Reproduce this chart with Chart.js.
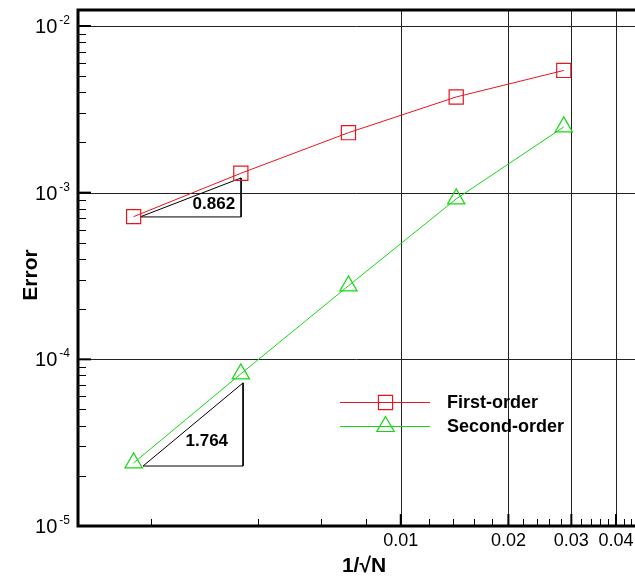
<!DOCTYPE html>
<html>
<head>
<meta charset="utf-8">
<script src="https://cdn.jsdelivr.net/npm/chart.js@4/dist/chart.umd.min.js"></script>
<style>
  body { margin: 0; background: #fff; }
  #wrap { width: 635px; height: 578px; }
</style>
</head>
<body>
<div id="wrap"><canvas id="myChart" width="635" height="578"></canvas></div>
<script>
// values
const h = [0.00179, 0.00357, 0.00714, 0.01429, 0.02857];           // 1/sqrt(N)
const firstOrder = [7.18e-4, 1.307e-3, 2.29e-3, 3.75e-3, 5.41e-3];
const secondOrder = [2.39e-5, 8.18e-5, 2.76e-4, 9.17e-4, 2.48e-3];

// slope triangles (x, y corners)
const slope1X = [0.001866, 0.003576, 0.003576, 0.001866];
const slope1Y = [7.15e-4, 1.225e-3, 7.15e-4, 7.15e-4];
const slope2X = [0.001902, 0.003622, 0.003622, 0.001902];
const slope2Y = [2.29e-5, 7.22e-5, 2.29e-5, 2.29e-5];
const slopeLabels = ["0.862", "1.764"];

// axes
const xMajorTicks = [0.01, 0.02, 0.03, 0.04];
const xTickLabels = ["0.01", "0.02", "0.03", "0.04"];
const xMinorTicks = [0.002, 0.004, 0.006, 0.008, 0.012, 0.014, 0.016, 0.018,
  0.022, 0.024, 0.026, 0.028, 0.032, 0.034, 0.036, 0.038, 0.042, 0.044];
const yMajorTicks = [1e-5, 1e-4, 1e-3, 1e-2];
const yTickExps = ["-5", "-4", "-3", "-2"];

const RED = "rgb(235,20,30)";
const GREEN = "rgb(20,215,20)";
const FONT = "'Liberation Sans', Arial, sans-serif";

function pts(xs, ys) {
  return xs.map((x, i) => ({ x: x, y: ys[i] }));
}

function crisp(v) { return Math.round(v) + 0.5; }

function drawMarker(ctx, style, x, y, r, color) {
  ctx.save();
  ctx.strokeStyle = color;
  ctx.lineWidth = 1.2;
  ctx.beginPath();
  if (style === "rect") {
    const s = r * Math.SQRT1_2;
    ctx.rect(x - s, y - s, 2 * s, 2 * s);
  } else {
    ctx.moveTo(x, y - r);
    ctx.lineTo(x + r * 0.866, y + r / 2);
    ctx.lineTo(x - r * 0.866, y + r / 2);
    ctx.closePath();
  }
  ctx.stroke();
  ctx.restore();
}

const framePlugin = {
  id: "frame",
  beforeDatasetsDraw(chart) {
    const ctx = chart.ctx;
    const a = chart.chartArea;
    const xs = chart.scales.x, ys = chart.scales.y;
    ctx.save();
    ctx.strokeStyle = "#222";
    ctx.lineWidth = 1;
    yMajorTicks.forEach(v => {
      if (v <= 1e-5) return;
      const py = crisp(ys.getPixelForValue(v));
      ctx.beginPath(); ctx.moveTo(a.left, py); ctx.lineTo(a.right, py); ctx.stroke();
    });
    xMajorTicks.forEach(v => {
      const px = crisp(xs.getPixelForValue(v));
      ctx.beginPath(); ctx.moveTo(px, a.top); ctx.lineTo(px, a.bottom); ctx.stroke();
    });
    ctx.restore();
  },
  afterDatasetsDraw(chart) {
    const ctx = chart.ctx;
    const a = chart.chartArea;
    const xs = chart.scales.x, ys = chart.scales.y;
    ctx.save();

    // frame
    ctx.strokeStyle = "#000";
    ctx.lineWidth = 3;
    ctx.beginPath();
    ctx.moveTo(a.right + 2, a.top);
    ctx.lineTo(a.left, a.top);
    ctx.lineTo(a.left, a.bottom);
    ctx.lineTo(a.right + 2, a.bottom);
    ctx.stroke();

    // y ticks
    yMajorTicks.forEach((v, i) => {
      const py = ys.getPixelForValue(v);
      ctx.lineWidth = 2;
      ctx.beginPath(); ctx.moveTo(a.left, py); ctx.lineTo(a.left + 13, py); ctx.stroke();
      if (i < yMajorTicks.length - 1) {
        for (let k = 2; k <= 9; k++) {
          const my = crisp(ys.getPixelForValue(v * k));
          ctx.lineWidth = 1;
          ctx.beginPath(); ctx.moveTo(a.left, my); ctx.lineTo(a.left + 8, my); ctx.stroke();
        }
      }
      // label 10^n
      ctx.fillStyle = "#000";
      ctx.textAlign = "right";
      ctx.textBaseline = "alphabetic";
      ctx.font = "12px " + FONT;
      const supW = ctx.measureText(yTickExps[i]).width;
      ctx.fillText(yTickExps[i], 70, py - 2);
      ctx.font = "20px " + FONT;
      ctx.fillText("10", 70 - supW - 2, py + 7);
    });

    // x ticks
    xMajorTicks.forEach((v, i) => {
      const px = xs.getPixelForValue(v);
      ctx.lineWidth = 2;
      ctx.beginPath(); ctx.moveTo(px, a.bottom); ctx.lineTo(px, a.bottom - 12); ctx.stroke();
      ctx.fillStyle = "#000";
      ctx.font = "18px " + FONT;
      ctx.textAlign = "center";
      ctx.textBaseline = "alphabetic";
      ctx.fillText(xTickLabels[i], px, 546);
    });
    xMinorTicks.forEach(v => {
      const px = crisp(xs.getPixelForValue(v));
      ctx.lineWidth = 1;
      ctx.beginPath(); ctx.moveTo(px, a.bottom); ctx.lineTo(px, a.bottom - 7); ctx.stroke();
    });

    // axis titles
    ctx.fillStyle = "#000";
    ctx.font = "bold 21px " + FONT;
    ctx.textAlign = "center";
    ctx.fillText("1/\u221AN", 364, 572);
    ctx.save();
    ctx.translate(37, 275);
    ctx.rotate(-Math.PI / 2);
    ctx.fillText("Error", 0, 0);
    ctx.restore();

    // slope labels
    ctx.font = "bold 17px " + FONT;
    ctx.textAlign = "right";
    ctx.fillText(slopeLabels[0], xs.getPixelForValue(slope1X[1]) - 6, ys.getPixelForValue(slope1Y[2]) - 8);
    ctx.fillText(slopeLabels[1], xs.getPixelForValue(slope2X[1]) - 15, ys.getPixelForValue(slope2Y[2]) - 20);

    // legend
    const legend = [
      { label: "First-order", color: RED, style: "rect", y: 402 },
      { label: "Second-order", color: GREEN, style: "triangle", y: 426 }
    ];
    legend.forEach(item => {
      ctx.strokeStyle = item.color;
      ctx.lineWidth = 1;
      ctx.beginPath(); ctx.moveTo(340, item.y + 0.5); ctx.lineTo(430, item.y + 0.5); ctx.stroke();
      drawMarker(ctx, item.style, 385.5, item.y + 0.5, 10, item.color);
      ctx.fillStyle = "#000";
      ctx.font = "bold 18px " + FONT;
      ctx.textAlign = "left";
      ctx.fillText(item.label, 447, item.y + 6);
    });

    ctx.restore();
  }
};

const ctx = document.getElementById("myChart").getContext("2d");
const myChart = new Chart(ctx, {
  type: "scatter",
  data: {
    datasets: [
      { // slope triangle 1
        data: pts(slope1X, slope1Y),
        showLine: true, borderColor: "#000", borderWidth: 1, pointRadius: 0, order: 3
      },
      { // slope triangle 2
        data: pts(slope2X, slope2Y),
        showLine: true, borderColor: "#000", borderWidth: 1, pointRadius: 0, order: 3
      },
      {
        label: "First-order",
        data: pts(h, firstOrder),
        showLine: true, borderColor: RED, borderWidth: 1,
        pointStyle: "rect", pointRadius: 10, pointBorderWidth: 1.2,
        pointBackgroundColor: "rgba(0,0,0,0)", pointBorderColor: RED, order: 1
      },
      {
        label: "Second-order",
        data: pts(h, secondOrder),
        showLine: true, borderColor: GREEN, borderWidth: 1,
        pointStyle: "triangle", pointRadius: 10, pointBorderWidth: 1.2,
        pointBackgroundColor: "rgba(0,0,0,0)", pointBorderColor: GREEN, order: 2
      }
    ]
  },
  options: {
    responsive: false,
    animation: false,
    layout: { autoPadding: false, padding: { left: 78, right: 0, top: 10, bottom: 52 } },
    plugins: {
      legend: { display: false },
      tooltip: { enabled: false }
    },
    scales: {
      x: { type: "logarithmic", min: 0.001251, max: 0.0452, display: false },
      y: { type: "logarithmic", min: 1e-5, max: 0.01247, display: false }
    }
  },
  plugins: [framePlugin]
});
</script>
</body>
</html>
